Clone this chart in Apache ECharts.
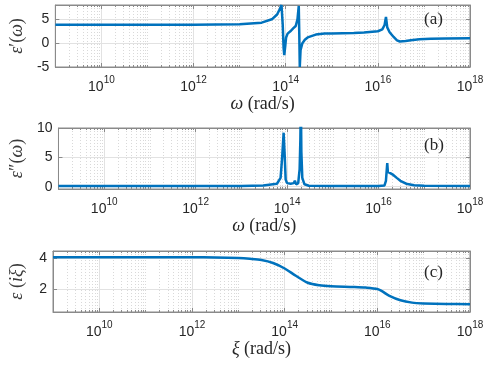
<!DOCTYPE html>
<html>
<head>
<meta charset="utf-8">
<script src="https://cdn.jsdelivr.net/npm/echarts@6/dist/echarts.min.js"></script>
<style>
  html, body { margin: 0; padding: 0; background: #fff; }
  #chart { width: 491px; height: 365px; }
</style>
</head>
<body>
<div id="chart"></div>
<script>
// labelled x ticks (every second decade)
const xMajor = [1e10, 1e12, 1e14, 1e16, 1e18];

// (a) real part eps'(omega)
const omegaA = [1e9, 1e11, 1e12, 1e13, 3e13, 5e13, 6.5e13, 7.5e13, 8.1e13, 8.6e13, 9.0e13, 9.3e13,
  9.8e13, 1.02e14, 1.1e14, 1.3e14, 1.45e14, 1.55e14, 1.65e14, 1.8e14, 1.92e14, 1.97e14, 2.02e14,
  2.1e14, 2.3e14, 2.6e14, 3e14, 4.5e14, 7e14, 1e15, 3e15, 5e15, 1e16, 1.25e16, 1.4e16, 1.5e16,
  1.6e16, 1.8e16, 2.2e16, 2.6e16, 3e16, 4e16, 5.2e16, 8e16, 1.4e17, 3e17, 1e18];
const epsRe = [3.85, 3.85, 3.86, 3.95, 4.3, 5.0, 6.0, 7.2, 8.0, 4.0, -1.0, -2.5,
  -0.5, 1.2, 2.0, 2.6, 3.1, 2.8, 3.6, 5.0, 7.8, 2.0, -5.0,
  -1.5, 0.0, 0.7, 1.2, 1.8, 2.0, 2.05, 2.15, 2.25, 2.5, 2.9, 3.8, 5.5,
  3.3, 2.3, 1.3, 0.6, 0.35, 0.45, 0.6, 0.8, 0.9, 1.0, 1.02];

// (b) imaginary part eps''(omega)
const omegaB = [1e9, 1e13, 3e13, 6e13, 7.2e13, 7.8e13, 8.4e13, 8.9e13, 9.3e13, 1.0e14, 1.2e14,
  1.4e14, 1.48e14, 1.58e14, 1.75e14, 1.88e14, 1.95e14, 2.0e14, 2.05e14, 2.15e14, 2.4e14, 3e14,
  1e15, 1e16, 1.35e16, 1.45e16, 1.55e16, 1.6e16, 1.7e16, 1.8e16, 2.1e16, 2.5e16, 3e16, 4e16,
  6e16, 1e17, 1e18];
const epsIm = [0.1, 0.1, 0.2, 0.5, 1.5, 5.0, 9.2, 5.0, 1.2, 0.6, 0.5,
  0.6, 1.0, 0.4, 0.6, 3.0, 8.0, 15.0, 6.0, 1.5, 0.4, 0.15,
  0.1, 0.1, 0.2, 1.0, 4.0, 2.5, 2.7, 2.3, 2.0, 1.5, 1.0, 0.5,
  0.25, 0.15, 0.1];

// (c) eps(i xi)
const xiC = [1e9, 1e12, 3.16e12, 1e13, 1.78e13, 3.16e13, 5.62e13, 1e14, 1.78e14, 3.16e14, 5.62e14,
  1e15, 3.16e15, 5.62e15, 1e16, 1.26e16, 1.78e16, 3.16e16, 5.62e16, 1e17, 3.16e17, 1e18];
const epsXi = [4.05, 4.05, 4.04, 4.0, 3.95, 3.87, 3.68, 3.33, 2.85, 2.42, 2.26,
  2.2, 2.15, 2.11, 2.02, 1.88, 1.6, 1.3, 1.15, 1.1, 1.06, 1.05];

// minor grid positions k*10^n
const xMinor = [];
for (let n = 9; n < 18; n++) {
  for (let k = 1; k < 10; k++) {
    const v = k * Math.pow(10, n);
    if (!(k === 1 && n % 2 === 0)) xMinor.push(v);
  }
}

const boxColor = '#8a8a8a';
const textColor = '#262626';
const sans = 'Liberation Sans, Arial, sans-serif';
const serif = 'Liberation Serif, DejaVu Serif, serif';
const lineColor = '#0072BD';

const grids = [
  { left: 48, top: 5, width: 422, height: 62 },
  { left: 48, top: 128, width: 422, height: 61 },
  { left: 48, top: 251, width: 422, height: 61 }
];

const panels = [
  { x: omegaA, y: epsRe, yMin: -5, yMax: 8, yTicks: [-5, 0, 5],
    xName: '{i|ω} (rad/s)', yName: '{i|ε}′({i|ω})', tag: '(a)', smooth: false },
  { x: omegaB, y: epsIm, yMin: -0.4, yMax: 10, yTicks: [0, 5, 10],
    xName: '{i|ω} (rad/s)', yName: '{i|ε}″({i|ω})', tag: '(b)', smooth: false },
  { x: xiC, y: epsXi, yMin: 0.55, yMax: 4.45, yTicks: [2, 4],
    xName: '{i|ξ} (rad/s)', yName: '{i|ε} ({i|iξ})', tag: '(c)', smooth: 0.3 }
];

const xAxes = [];
const yAxes = [];
const series = [];
const titles = [];

panels.forEach(function (p, g) {
  const base = {
    type: 'log', logBase: 10, min: 1e9, max: 1.00001e18, gridIndex: g,
    axisLine: { show: true, onZero: false, lineStyle: { color: boxColor, width: 1 } }
  };
  // bottom, labelled
  xAxes.push(Object.assign({}, base, {
    position: 'bottom',
    name: p.xName, nameLocation: 'middle', nameGap: 24,
    nameTextStyle: {
      fontFamily: serif, fontSize: 18, color: textColor,
      rich: { i: { fontFamily: serif, fontSize: 18, fontStyle: 'italic', color: textColor } }
    },
    axisTick: { show: true, inside: true, length: 4, customValues: xMajor, lineStyle: { color: boxColor } },
    axisLabel: {
      customValues: xMajor, margin: 8, showMinLabel: true, showMaxLabel: true,
      formatter: function (v) {
        const e = Math.round(Math.log10(v));
        return '{b|10}{s|' + e + '}';
      },
      rich: {
        b: { fontFamily: sans, fontSize: 14, color: textColor, lineHeight: 24, verticalAlign: 'middle' },
        s: { fontFamily: sans, fontSize: 10, color: textColor, lineHeight: 14, verticalAlign: 'top' }
      }
    },
    splitLine: { show: true, lineStyle: { color: '#e2e2e2', width: 1 } }
  }));
  // bottom, minor ticks + dotted grid
  xAxes.push(Object.assign({}, base, {
    position: 'bottom',
    axisLine: { show: false, onZero: false },
    axisTick: { show: true, inside: true, length: 2, customValues: xMinor, lineStyle: { color: boxColor } },
    axisLabel: { show: false },
    splitLine: { show: true, lineStyle: { color: '#d9d9d9', width: 1, type: [1, 2] } }
  }));
  // top ticks
  xAxes.push(Object.assign({}, base, {
    position: 'top',
    axisTick: { show: true, inside: true, length: 4, customValues: xMajor, lineStyle: { color: boxColor } },
    axisLabel: { show: false },
    splitLine: { show: false }
  }));
  xAxes.push(Object.assign({}, base, {
    position: 'top',
    axisLine: { show: false, onZero: false },
    axisTick: { show: true, inside: true, length: 2, customValues: xMinor, lineStyle: { color: boxColor } },
    axisLabel: { show: false },
    splitLine: { show: false }
  }));

  const yBase = {
    type: 'value', min: p.yMin, max: p.yMax, gridIndex: g,
    axisLine: { show: true, onZero: false, lineStyle: { color: boxColor, width: 1 } }
  };
  yAxes.push(Object.assign({}, yBase, {
    position: 'left',
    name: p.yName, nameLocation: 'middle', nameGap: 27, nameRotate: 90,
    nameTextStyle: {
      fontFamily: serif, fontSize: 18, color: '#3a3a3a',
      rich: { i: { fontFamily: serif, fontSize: 18, fontStyle: 'italic', color: '#3a3a3a' } }
    },
    axisTick: { show: true, inside: true, length: 4, customValues: p.yTicks, lineStyle: { color: boxColor } },
    axisLabel: { customValues: p.yTicks, margin: 6, fontFamily: sans, fontSize: 14, color: textColor,
      showMinLabel: true, showMaxLabel: true },
    splitLine: { show: true, lineStyle: { color: '#e2e2e2', width: 1 } }
  }));
  yAxes.push(Object.assign({}, yBase, {
    position: 'right',
    axisTick: { show: true, inside: true, length: 4, customValues: p.yTicks, lineStyle: { color: boxColor } },
    axisLabel: { show: false },
    splitLine: { show: false }
  }));

  series.push({
    type: 'line',
    xAxisIndex: g * 4,
    yAxisIndex: g * 2,
    data: p.x.map(function (w, i) { return [w, p.y[i]]; }),
    showSymbol: false,
    smooth: p.smooth,
    clip: true,
    z: 10,
    lineStyle: { color: lineColor, width: 2.5 },
    animation: false
  });

  titles.push({
    text: p.tag, left: 424, top: [11, 137, 264][g], padding: 0,
    textStyle: { fontFamily: serif, fontSize: 17, fontWeight: 'normal', color: textColor }
  });
});

const chart = echarts.init(document.getElementById('chart'));
chart.setOption({
  backgroundColor: '#ffffff',
  animation: false,
  title: titles,
  grid: grids.map(function (g) {
    return Object.assign({ show: true, borderColor: boxColor, borderWidth: 1, backgroundColor: '#fff' }, g);
  }),
  xAxis: xAxes,
  yAxis: yAxes,
  series: series
});
</script>
</body>
</html>
